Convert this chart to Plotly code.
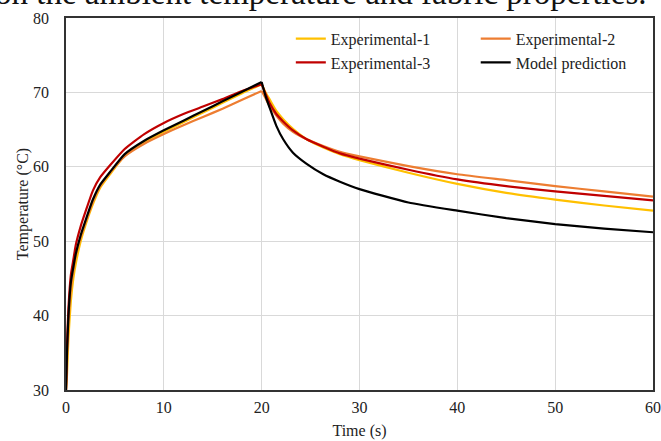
import plotly.graph_objects as go

# ---- data ----
t_heat = [0, 0.1, 0.25, 0.5, 0.75, 1, 1.5, 2, 2.75, 3.5, 4.5, 6, 8, 10, 12, 14, 16, 18, 20]
exp1_heat = [30, 32, 37, 42, 45, 47, 50, 52.2, 55, 57.2, 59, 61.5, 63.3, 64.7, 66.0, 67.3, 68.6, 69.9, 71.1]
exp2_heat = [30, 34, 39, 43.5, 46, 48, 50.5, 52.5, 55.3, 57.4, 59.2, 61.4, 63.1, 64.4, 65.6, 66.7, 67.8, 69.0, 70.2]
exp3_heat = [30, 36, 41, 45.5, 47.5, 49.5, 52, 54, 56.8, 58.6, 60.2, 62.4, 64.4, 65.9, 67.1, 68.1, 69.1, 70.2, 71.1]
model_heat = [30, 35, 40, 44.5, 46.5, 48.3, 50.8, 52.8, 55.6, 57.6, 59.3, 61.7, 63.5, 64.9, 66.2, 67.5, 68.8, 70.1, 71.4]

t_cool = [20, 20.4, 20.8, 21.5, 22.2, 23.2, 24.6, 26.3, 28, 30, 35, 40, 45, 50, 55, 60]
exp1_cool = [71.1, 70.0, 69.1, 67.5, 66.4, 65.1, 63.7, 62.6, 61.7, 60.9, 59.2, 57.7, 56.5, 55.6, 54.8, 54.1]
exp2_cool = [70.2, 69.2, 68.2, 66.9, 65.8, 64.7, 63.7, 62.8, 62.0, 61.4, 60.1, 59.0, 58.2, 57.4, 56.7, 56.0]
exp3_cool = [71.1, 69.8, 68.6, 67.1, 66.1, 64.9, 63.7, 62.7, 61.8, 61.1, 59.6, 58.3, 57.4, 56.7, 56.1, 55.5]
model_cool = [71.4, 69.5, 68.0, 65.5, 63.7, 61.9, 60.4, 59.0, 58.0, 57.0, 55.2, 54.1, 53.1, 52.3, 51.7, 51.2]

series_names = ["Experimental-1", "Experimental-2", "Experimental-3", "Model prediction"]
series_colors = ["#FFC000", "#ED7D31", "#C00000", "#000000"]
series_legend = ["legend", "legend2", "legend", "legend2"]
heat_values = [exp1_heat, exp2_heat, exp3_heat, model_heat]
cool_values = [exp1_cool, exp2_cool, exp3_cool, model_cool]

x_ticks = [0, 10, 20, 30, 40, 50, 60]
y_ticks = [30, 40, 50, 60, 70, 80]

caption = "on the ambient temperature and fabric properties."

FONT = "Liberation Serif, Times New Roman, serif"

fig = go.Figure()
for name, color, lg, hv, cv in zip(series_names, series_colors, series_legend, heat_values, cool_values):
    fig.add_trace(go.Scatter(x=t_heat, y=hv, mode="lines", name=name, legend=lg,
                             legendgroup=name, showlegend=True,
                             line=dict(color=color, width=2.2, shape="spline", smoothing=0.5)))
    fig.add_trace(go.Scatter(x=t_cool, y=cv, mode="lines", name=name, legend=lg,
                             legendgroup=name, showlegend=False,
                             line=dict(color=color, width=2.2, shape="spline", smoothing=0.5)))

legend_common = dict(orientation="v", yanchor="top", xanchor="left",
                     bgcolor="rgba(0,0,0,0)", font=dict(family=FONT, size=16, color="#222"),
                     tracegroupgap=0)

fig.update_layout(
    width=661, height=441,
    margin=dict(l=66, r=8, t=18, b=51, autoexpand=False),
    paper_bgcolor="white", plot_bgcolor="white",
    font=dict(family=FONT, size=16, color="#222"),
    showlegend=True,
    legend=dict(x=0.383, y=0.990, **legend_common),
    legend2=dict(x=0.698, y=0.990, **legend_common),
    xaxis=dict(range=[0, 60], tickvals=x_ticks, showgrid=True, gridcolor="#d9d9d9", gridwidth=1,
               showline=True, linecolor="#333", linewidth=1.5, mirror=True, zeroline=False,
               ticks="", ticklabelstandoff=2, automargin=False,
               title=dict(text="Time (s)", font=dict(family=FONT, size=16), standoff=10)),
    yaxis=dict(range=[30, 80], tickvals=y_ticks, showgrid=True, gridcolor="#d9d9d9", gridwidth=1,
               showline=True, linecolor="#333", linewidth=1.5, mirror=True, zeroline=False,
               ticks="", ticklabelstandoff=12, automargin=False,
               title=dict(text="Temperature (\u00b0C)", font=dict(family=FONT, size=16), standoff=0)),
)

fig.add_annotation(text=caption, xref="paper", yref="paper", x=0.992, y=1.013,
                   xanchor="right", yanchor="bottom", showarrow=False,
                   font=dict(family=FONT, size=33, color="#111"))

fig.write_html("out.html", config={"displayModeBar": False},
               post_script="document.body.style.margin='0';")
